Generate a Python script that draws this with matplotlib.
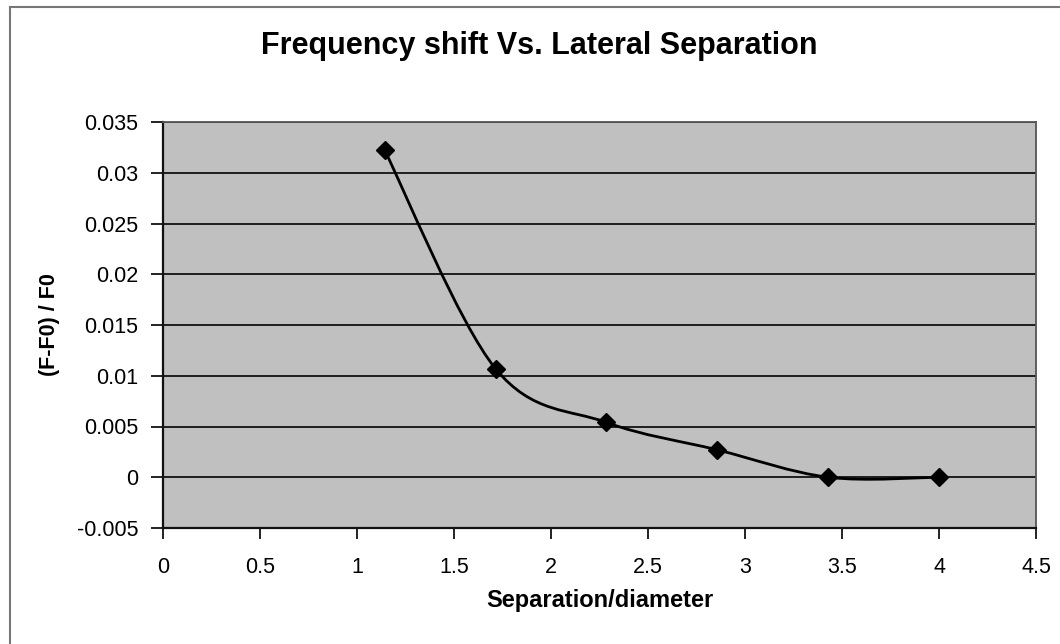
import matplotlib
matplotlib.use("Agg")
import matplotlib.pyplot as plt
from matplotlib.path import Path
from matplotlib.patches import PathPatch
from matplotlib.lines import Line2D
import numpy as np

plt.rcParams['font.family'] = ['Liberation Sans', 'DejaVu Sans']

# separation / diameter and relative frequency shift
separation = [1.143, 1.714, 2.286, 2.857, 3.429, 4.0]
shift = [0.0322, 0.0107, 0.0054, 0.0027, 0.0, 0.0]

x_ticks = [0, 0.5, 1, 1.5, 2, 2.5, 3, 3.5, 4, 4.5]
y_ticks = [-0.005, 0, 0.005, 0.01, 0.015, 0.02, 0.025, 0.03, 0.035]
y_labels = ['-0.005', '0', '0.005', '0.01', '0.015', '0.02', '0.025', '0.03', '0.035']


def smooth_path(xs, ys):
    # Catmull-Rom style bezier through every point (spreadsheet "smoothed line")
    pts = np.column_stack([xs, ys])
    n = len(pts)
    verts = [pts[0]]
    codes = [Path.MOVETO]
    for i in range(n - 1):
        p0 = pts[max(i - 1, 0)]
        p1 = pts[i]
        p2 = pts[i + 1]
        p3 = pts[min(i + 2, n - 1)]
        c1 = p1 + (p2 - p0) / 6
        c2 = p2 - (p3 - p1) / 6
        verts += [c1, c2, p2]
        codes += [Path.CURVE4] * 3
    return Path(verts, codes)


fig = plt.figure(figsize=(10.6, 6.44), dpi=100)
fig.patch.set_facecolor('white')
ax = fig.add_axes([163 / 1060, 1 - 528 / 644, 873 / 1060, 406 / 644])
ax.set_facecolor('#c0c0c0')

ax.set_xlim(0, 4.5)
ax.set_ylim(-0.005, 0.035)
ax.set_xticks(x_ticks)
ax.set_xticklabels([f'{t:g}' for t in x_ticks])
ax.set_yticks(y_ticks)
ax.set_yticklabels(y_labels)

for t in y_ticks:
    ax.axhline(t, color='#111111', lw=1.3, zorder=1)

ax.add_patch(PathPatch(smooth_path(separation, shift), facecolor='none',
                       edgecolor='black', lw=2.0, zorder=3))
ax.plot(separation, shift, linestyle='none', marker='D', markersize=9,
        color='black', zorder=4)

for side in ['left', 'bottom']:
    ax.spines[side].set_color('#111111')
    ax.spines[side].set_linewidth(1.6)
for side in ['top', 'right']:
    ax.spines[side].set_color('#555555')
    ax.spines[side].set_linewidth(1.3)

ax.tick_params(axis='y', direction='out', length=9, width=1.3, pad=9,
               labelsize=15.5, color='#111111')
ax.tick_params(axis='x', direction='out', length=8, width=1.3, pad=13,
               labelsize=15.5, color='#111111')

ax.set_xlabel('Separation/diameter', fontsize=17, fontweight='bold', labelpad=8)
ax.set_ylabel('(F-F0) / F0', fontsize=15.5, fontweight='bold', labelpad=12)

fig.text(539 / 1060, 1 - 46 / 644, 'Frequency shift Vs. Lateral Separation',
         ha='center', va='center', fontsize=22, fontweight='bold')

# chart area frame (top and left edges fall inside the canvas)
fig.add_artist(Line2D([10 / 1060, 10 / 1060], [0, 1 - 7 / 644],
                      transform=fig.transFigure, color='#777777', lw=1.5))
fig.add_artist(Line2D([10 / 1060, 1], [1 - 7 / 644, 1 - 7 / 644],
                      transform=fig.transFigure, color='#777777', lw=1.5))

fig.savefig('out.png', dpi=100)
